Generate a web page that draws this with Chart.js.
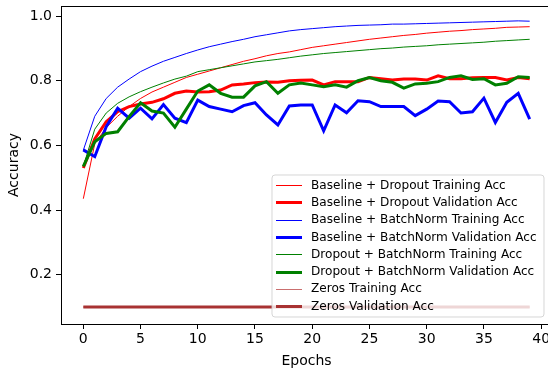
<!DOCTYPE html>
<html>
<head>
<meta charset="utf-8">
<script src="https://cdn.jsdelivr.net/npm/chart.js@4/dist/chart.umd.min.js"></script>
<style>
html,body{margin:0;padding:0;background:#fff;overflow:hidden;width:548px;height:370px;}
canvas{display:block;}
</style>
</head>
<body>
<canvas id="c" width="560" height="370" style="width:560px;height:370px"></canvas>
<script>
const epochs = [0,1,2,3,4,5,6,7,8,9,10,11,12,13,14,15,16,17,18,19,20,21,22,23,24,25,26,27,28,29,30,31,32,33,34,35,36,37,38,39];
const xTicks = [0,5,10,15,20,25,30,35,40];
const yTicks = [0.2,0.4,0.6,0.8,1.0];

const dropoutTrain = [0.435,0.605,0.655,0.690,0.720,0.745,0.765,0.780,0.795,0.810,0.820,0.830,0.840,0.850,0.860,0.868,0.877,0.884,0.889,0.896,0.903,0.908,0.913,0.918,0.923,0.928,0.932,0.936,0.940,0.943,0.947,0.950,0.953,0.955,0.958,0.960,0.962,0.965,0.966,0.967];
const dropoutVal = [0.530,0.620,0.673,0.704,0.720,0.728,0.733,0.744,0.761,0.768,0.765,0.766,0.771,0.787,0.790,0.794,0.796,0.795,0.800,0.801,0.802,0.787,0.797,0.797,0.797,0.810,0.806,0.802,0.805,0.805,0.802,0.815,0.806,0.806,0.809,0.810,0.810,0.802,0.810,0.806];
const bnTrain = [0.585,0.690,0.745,0.780,0.805,0.828,0.845,0.860,0.872,0.884,0.895,0.905,0.913,0.921,0.928,0.936,0.942,0.948,0.954,0.958,0.961,0.964,0.967,0.969,0.971,0.972,0.973,0.975,0.975,0.976,0.977,0.978,0.979,0.980,0.981,0.982,0.983,0.984,0.985,0.984];
const bnVal = [0.586,0.565,0.658,0.715,0.684,0.715,0.682,0.726,0.684,0.670,0.740,0.720,0.712,0.704,0.723,0.732,0.694,0.663,0.722,0.725,0.725,0.645,0.725,0.701,0.738,0.735,0.720,0.720,0.720,0.692,0.712,0.737,0.735,0.700,0.704,0.746,0.671,0.733,0.761,0.681];
const dbnTrain = [0.535,0.650,0.700,0.730,0.750,0.766,0.780,0.793,0.805,0.814,0.828,0.834,0.840,0.846,0.852,0.858,0.862,0.866,0.871,0.876,0.880,0.884,0.887,0.890,0.893,0.896,0.899,0.901,0.904,0.906,0.908,0.911,0.913,0.915,0.917,0.919,0.922,0.924,0.926,0.928];
const dbnVal = [0.535,0.611,0.637,0.642,0.689,0.732,0.706,0.700,0.656,0.712,0.768,0.787,0.761,0.749,0.749,0.784,0.797,0.761,0.787,0.793,0.787,0.781,0.787,0.780,0.800,0.810,0.800,0.795,0.777,0.790,0.792,0.797,0.810,0.815,0.804,0.806,0.787,0.792,0.812,0.810];
const zerosTrain = [0.1,0.1,0.1,0.1,0.1,0.1,0.1,0.1,0.1,0.1,0.1,0.1,0.1,0.1,0.1,0.1,0.1,0.1,0.1,0.1,0.1,0.1,0.1,0.1,0.1,0.1,0.1,0.1,0.1,0.1,0.1,0.1,0.1,0.1,0.1,0.1,0.1,0.1,0.1,0.1];
const zerosVal = [0.1,0.1,0.1,0.1,0.1,0.1,0.1,0.1,0.1,0.1,0.1,0.1,0.1,0.1,0.1,0.1,0.1,0.1,0.1,0.1,0.1,0.1,0.1,0.1,0.1,0.1,0.1,0.1,0.1,0.1,0.1,0.1,0.1,0.1,0.1,0.1,0.1,0.1,0.1,0.1];

const labels = [
  "Baseline + Dropout Training Acc",
  "Baseline + Dropout Validation Acc",
  "Baseline + BatchNorm Training Acc",
  "Baseline + BatchNorm Validation Acc",
  "Dropout + BatchNorm Training Acc",
  "Dropout + BatchNorm Validation Acc",
  "Zeros Training Acc",
  "Zeros Validation Acc"
];
const series = [dropoutTrain, dropoutVal, bnTrain, bnVal, dbnTrain, dbnVal, zerosTrain, zerosVal];
const colors = ["#ff0000","#ff0000","#0000ff","#0000ff","#008000","#008000","rgba(180,50,50,0.7)","#a83232"];
const widths = [1,3,1,3,1,3,1,3];

const FONT = "'DejaVu Sans', sans-serif";

const datasets = series.map((vals, i) => ({
  label: labels[i],
  data: epochs.map((e, k) => ({x: e, y: vals[k]})),
  borderColor: colors[i],
  backgroundColor: colors[i],
  borderWidth: widths[i],
  pointRadius: 0,
  tension: 0,
  fill: false,
  order: series.length - 1 - i
}));

const framePlugin = {
  id: 'frame',
  afterDatasetsDraw(chart) {
    const ctx = chart.ctx, a = chart.chartArea;
    ctx.save();
    ctx.strokeStyle = '#000';
    ctx.lineWidth = 1;
    ctx.beginPath();
    ctx.moveTo(a.left, a.top + 0.5);
    ctx.lineTo(a.right, a.top + 0.5);
    ctx.lineTo(a.right, a.bottom);
    ctx.stroke();
    ctx.restore();
  },
  afterDraw(chart) {
    const ctx = chart.ctx;
    const right = 544, bottom = 317, left = 272, top = 175;
    ctx.save();
    const r = 3;
    ctx.beginPath();
    ctx.moveTo(left + r, top);
    ctx.lineTo(right - r, top);
    ctx.quadraticCurveTo(right, top, right, top + r);
    ctx.lineTo(right, bottom - r);
    ctx.quadraticCurveTo(right, bottom, right - r, bottom);
    ctx.lineTo(left + r, bottom);
    ctx.quadraticCurveTo(left, bottom, left, bottom - r);
    ctx.lineTo(left, top + r);
    ctx.quadraticCurveTo(left, top, left + r, top);
    ctx.closePath();
    ctx.fillStyle = 'rgba(255,255,255,0.8)';
    ctx.fill();
    ctx.strokeStyle = 'rgba(204,204,204,0.8)';
    ctx.lineWidth = 1;
    ctx.stroke();
    ctx.font = "12.1px " + FONT;
    ctx.textBaseline = 'middle';
    ctx.textAlign = 'left';
    chart.data.datasets.forEach((ds, i) => {
      const yc = 185 + i * 17.3;
      const y = ds.borderWidth % 2 === 1 ? Math.round(yc) + 0.5 : Math.round(yc);
      ctx.beginPath();
      ctx.strokeStyle = ds.borderColor;
      ctx.lineWidth = ds.borderWidth;
      ctx.moveTo(276, y);
      ctx.lineTo(302, y);
      ctx.stroke();
      ctx.fillStyle = '#000';
      ctx.fillText(ds.label, 311, yc + 0.5);
    });
    ctx.restore();
  }
};

new Chart(document.getElementById('c'), {
  type: 'line',
  data: { datasets },
  options: {
    responsive: false,
    devicePixelRatio: 1,
    animation: false,
    layout: { padding: { top: 6, right: 8, left: 0, bottom: 0 } },
    plugins: { legend: { display: false }, tooltip: { enabled: false } },
    scales: {
      x: {
        type: 'linear',
        min: -1.95,
        max: 40.95,
        afterBuildTicks(scale) { scale.ticks = xTicks.map(v => ({value: v})); },
        afterFit(scale) { scale.height = 46; scale.paddingLeft = 0; scale.paddingRight = 0; },
        grid: { display: true, drawOnChartArea: false, drawTicks: true, tickLength: 5, color: '#000', lineWidth: 1 },
        border: { display: true, color: '#000', width: 1 },
        ticks: { color: '#000', font: { family: FONT, size: 14 }, padding: 2, maxRotation: 0, autoSkip: false,
                 callback: v => String(v) },
        title: { display: true, text: 'Epochs', color: '#000', font: { family: FONT, size: 14 }, padding: { top: 0, bottom: 0 } }
      },
      y: {
        type: 'linear',
        min: 0.0475,
        max: 1.031,
        afterBuildTicks(scale) { scale.ticks = yTicks.map(v => ({value: v})); },
        afterFit(scale) { scale.width = 61; scale.paddingTop = 0; scale.paddingBottom = 0; },
        grid: { display: true, drawOnChartArea: false, drawTicks: true, tickLength: 5, color: '#000', lineWidth: 1 },
        border: { display: true, color: '#000', width: 1 },
        ticks: { color: '#000', font: { family: FONT, size: 14 }, padding: 4,
                 callback: v => v.toFixed(1) },
        title: { display: true, text: 'Accuracy', color: '#000', font: { family: FONT, size: 14 }, padding: { top: 6, bottom: 0 } }
      }
    }
  },
  plugins: [framePlugin]
});
</script>
</body>
</html>
